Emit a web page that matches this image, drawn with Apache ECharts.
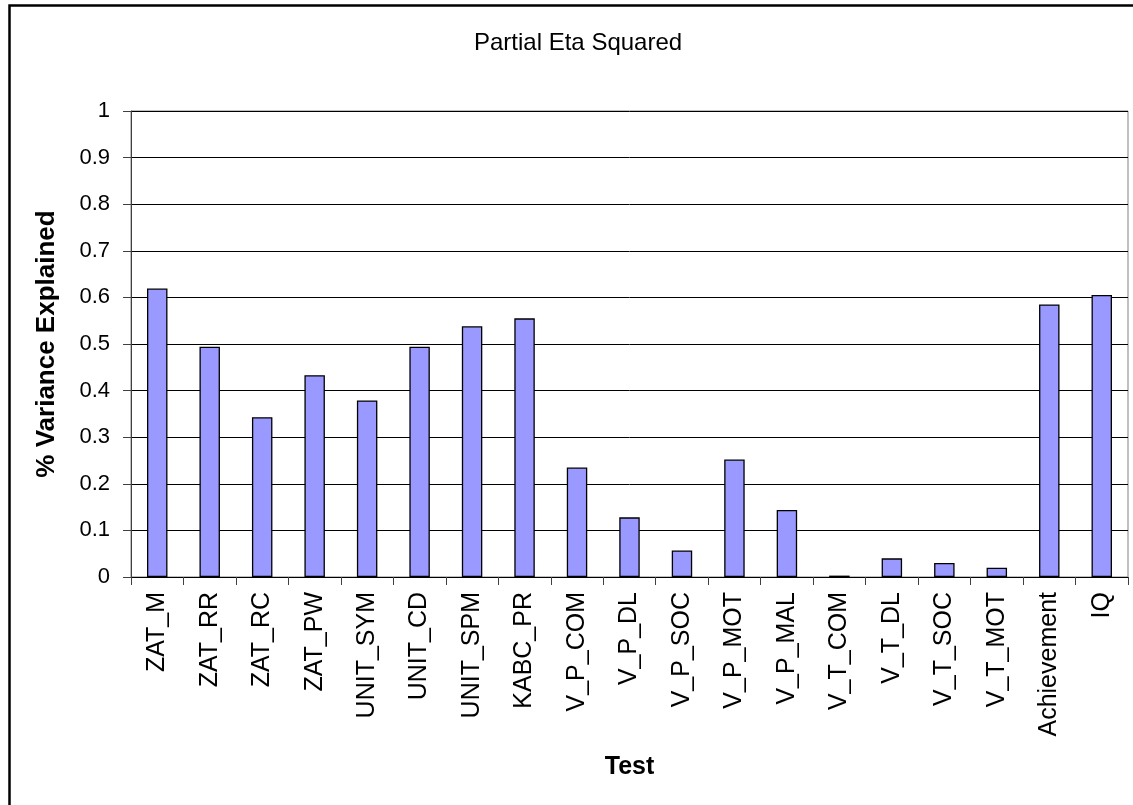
<!DOCTYPE html>
<html>
<head>
<meta charset="utf-8">
<script src="https://cdn.jsdelivr.net/npm/echarts@6/dist/echarts.min.js"></script>
<style>
html,body{margin:0;padding:0;background:#fff;overflow:hidden;}
#c{width:1133px;height:805px;}
</style>
</head>
<body>
<div id="c"></div>
<script>
const categories = ["ZAT_M","ZAT_RR","ZAT_RC","ZAT_PW","UNIT_SYM","UNIT_CD","UNIT_SPM","KABC_PR","V_P_COM","V_P_DL","V_P_SOC","V_P_MOT","V_P_MAL","V_T_COM","V_T_DL","V_T_SOC","V_T_MOT","Achievement","IQ"];
const etaSquared = [0.619,0.494,0.343,0.433,0.379,0.494,0.538,0.555,0.235,0.128,0.057,0.252,0.144,0.003,0.040,0.030,0.020,0.585,0.605];
const yTicks = {min:0, max:1, interval:0.1};

const chart = echarts.init(document.getElementById('c'), null, {renderer:'canvas'});
const font = '"Liberation Sans", Arial, sans-serif';
chart.setOption({
  animation:false,
  backgroundColor:'#fff',
  title:{
    text:'Partial Eta Squared',
    left:469, top:26,
    textStyle:{fontFamily:font, fontSize:24, fontWeight:'normal', color:'#000'}
  },
  graphic:[{
    type:'rect', left:7, top:3, shape:{width:1160, height:830},
    style:{fill:'none', stroke:'#000', lineWidth:2.5}, silent:true, z:-1
  }],
  grid:{left:131, right:5, top:111, bottom:228, show:true, borderColor:'#808080', borderWidth:1, backgroundColor:'#fff'},
  xAxis:{
    type:'category', data:categories,
    name:'Test', nameLocation:'middle', nameGap:178,
    nameTextStyle:{fontFamily:font, fontSize:25, fontWeight:'bold', color:'#000'},
    axisLine:{lineStyle:{color:'#000', width:1}},
    axisTick:{show:true, length:8, lineStyle:{color:'#404040'}},
    axisLabel:{rotate:90, fontFamily:font, fontSize:25, color:'#000', margin:15, interval:0},
    splitLine:{show:false}
  },
  yAxis:{
    type:'value', min:yTicks.min, max:yTicks.max, interval:yTicks.interval,
    name:'% Variance Explained', nameLocation:'middle', nameGap:71, nameRotate:90,
    nameTextStyle:{fontFamily:font, fontSize:26, fontWeight:'bold', color:'#000'},
    axisLine:{show:true, lineStyle:{color:'#404040', width:1}},
    axisTick:{show:true, length:8, inside:false, lineStyle:{color:'#404040'}},
    axisLabel:{fontFamily:font, fontSize:22, color:'#000', margin:21,
      formatter:function(v){return String(Math.round(v*10)/10);}},
    splitLine:{show:true, lineStyle:{color:'#000', width:1}}
  },
  series:[{
    type:'bar', data:etaSquared, barWidth:'39%',
    itemStyle:{color:'#9999FF', borderColor:'#000', borderWidth:1.3}
  }]
});
</script>
</body>
</html>
